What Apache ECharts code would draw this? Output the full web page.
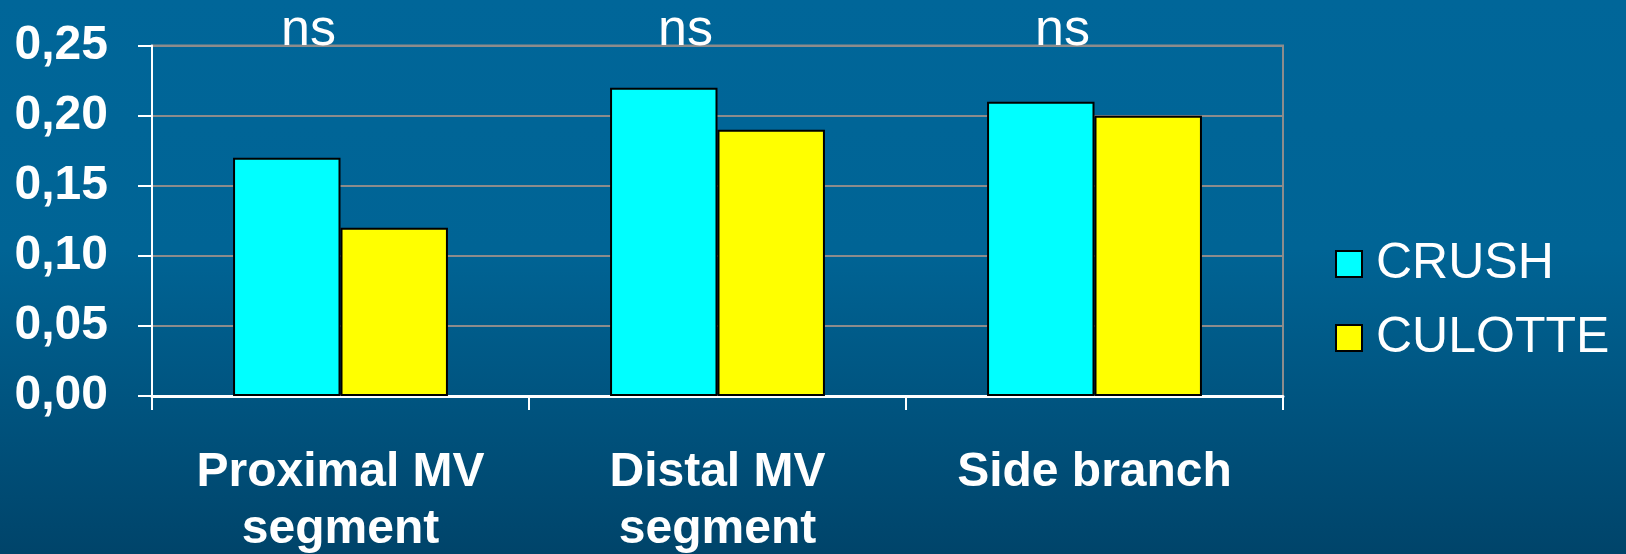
<!DOCTYPE html>
<html>
<head>
<meta charset="utf-8">
<script src="https://cdn.jsdelivr.net/npm/echarts@6/dist/echarts.min.js"></script>
<style>
  html, body { margin: 0; padding: 0; }
  #chart { width: 1626px; height: 554px; }
</style>
</head>
<body>
<div id="chart"></div>
<script>
// Segment categories and per-technique values
const categories = ['Proximal MV\nsegment', 'Distal MV\nsegment', 'Side branch'];
const crush = [0.17, 0.22, 0.21];
const culotte = [0.12, 0.19, 0.20];
const significance = ['ns', 'ns', 'ns'];
const yMax = 0.25;

const chart = echarts.init(document.getElementById('chart'));
const fontFamily = '"Liberation Sans", Arial, Helvetica, sans-serif';

chart.setOption({
  animation: false,
  backgroundColor: {
    type: 'linear', x: 0, y: 0, x2: 0, y2: 1,
    colorStops: [
      { offset: 0, color: '#006699' },
      { offset: 0.45, color: '#006495' },
      { offset: 1, color: '#00446a' }
    ]
  },
  grid: {
    left: 152, top: 45.6, right: 343, bottom: 158,
    outerBoundsMode: 'none',
    containLabel: false,
    show: true, borderColor: '#8c8c8c', borderWidth: 2,
    backgroundColor: 'transparent'
  },
  legend: {
    orient: 'vertical',
    left: 1330, top: 234,
    itemWidth: 26, itemHeight: 26, itemGap: 24,
    icon: 'rect',
    data: ['CRUSH', 'CULOTTE'],
    textStyle: { color: '#ffffff', fontSize: 50, fontFamily, padding: [0, 0, 0, 9], lineHeight: 50 }
  },
  xAxis: {
    type: 'category',
    data: categories,
    axisLine: { lineStyle: { color: '#ffffff', width: 3 } },
    axisTick: { show: true, length: 14, lineStyle: { color: '#ffffff', width: 2 } },
    axisLabel: {
      color: '#ffffff', fontSize: 48, fontWeight: 'bold', fontFamily,
      lineHeight: 57, margin: 48, interval: 0
    },
    splitLine: { show: false }
  },
  yAxis: {
    type: 'value',
    min: 0, max: yMax, interval: 0.05,
    axisLine: { show: true, lineStyle: { color: '#ffffff', width: 2 } },
    axisTick: { show: true, length: 14, lineStyle: { color: '#ffffff', width: 2 } },
    axisLabel: {
      color: '#ffffff', fontSize: 48, fontWeight: 'bold', fontFamily, margin: 44,
      formatter: v => v.toFixed(2).replace('.', ',')
    },
    splitLine: { lineStyle: { color: '#8c8c8c', width: 2 } }
  },
  series: [
    {
      name: 'CRUSH', type: 'bar', data: crush,
      barGap: '0%', barCategoryGap: '43%',
      itemStyle: { color: '#00ffff', borderColor: '#000000', borderWidth: 2 }
    },
    {
      name: 'CULOTTE', type: 'bar', data: culotte,
      itemStyle: { color: '#ffff00', borderColor: '#000000', borderWidth: 2 }
    },
    {
      // significance markers above each segment group
      name: 'significance', type: 'scatter', symbolSize: 0, silent: true,
      itemStyle: { opacity: 1 },
      data: significance.map((s, i) => ({ value: [i, yMax], label: { formatter: s } })),
      label: {
        show: true, position: 'inside', color: '#ffffff', opacity: 1,
        fontSize: 52, fontFamily, offset: [-32, -15]
      },
      z: 10
    }
  ]
});
</script>
</body>
</html>
